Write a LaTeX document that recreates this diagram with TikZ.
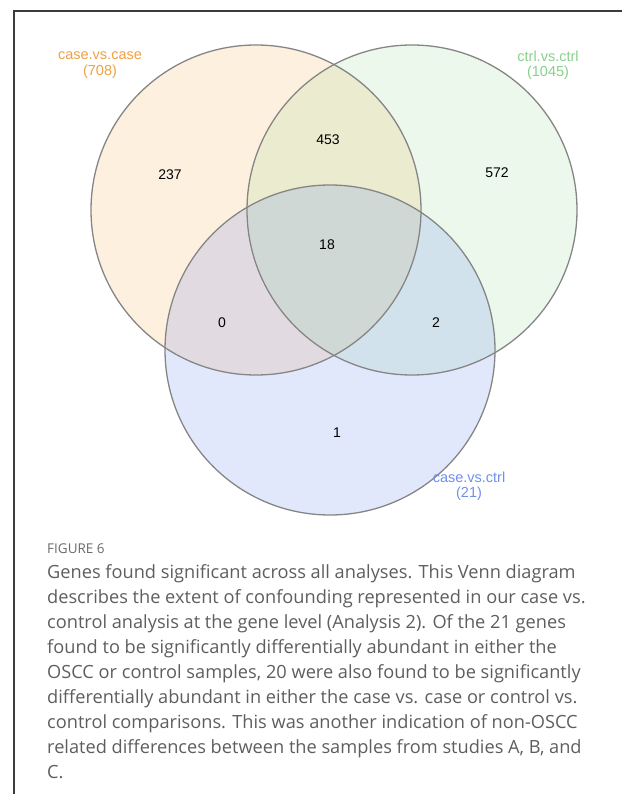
\documentclass[tikz,border=0pt]{standalone}
\usepackage{fontspec}
\setmainfont{Liberation Sans}
\newfontfamily\capfont{Open Sans}
\definecolor{frameC}{HTML}{3C3C3C}
\definecolor{ringC}{HTML}{858585}
\definecolor{orangeF}{HTML}{F5A032}
\definecolor{greenF}{HTML}{82D282}
\definecolor{blueF}{HTML}{6E8CF0}
\definecolor{orangeT}{HTML}{EFA043}
\definecolor{greenT}{HTML}{88D08A}
\definecolor{blueT}{HTML}{6F8FEF}
\definecolor{capC}{HTML}{5E5E5E}
\definecolor{figC}{HTML}{6A6A6A}
\tikzset{
  setlabel/.style={align=center, font=\fontsize{14.5}{15.5}\selectfont, inner sep=0pt},
  count/.style={font=\fontsize{14}{15}\selectfont, text=black, inner sep=0pt},
  ring/.style={circle, minimum size=330pt, inner sep=0pt, draw=ringC, line width=1.3pt},
}
\begin{document}
\begin{tikzpicture}[x=1pt,y=-1pt]
\useasboundingbox (0,0) rectangle (622,794);
\coordinate (fb) at (14,794);
\coordinate (fc) at (14,11);
\coordinate (fr) at (622,11);
\draw[frameC, line width=1.5pt] (fb) -- (fc) -- (fr);
% circle fills
\fill[orangeF, opacity=0.16] (256,210) circle (165);
\fill[greenF, opacity=0.16] (412,210) circle (165);
\fill[blueF, opacity=0.2] (330,350) circle (165);
% circle outlines
\node[ring] (A) at (256,210) {};
\node[ring] (B) at (412,210) {};
\node[ring] (C) at (330,350) {};
% set labels
\node[setlabel, text=orangeT] (la) at (100,65) {case.vs.case\\(708)};
\node[setlabel, text=greenT] (lb) at (548,65) {ctrl.vs.ctrl\\(1045)};
\node[setlabel, text=blueT] (lc) at (469,486) {case.vs.ctrl\\(21)};
% counts
\node[count] (n237) at (170,175) {237};
\node[count] (n453) at (328,140) {453};
\node[count] (n572) at (497,173) {572};
\node[count] (n18) at (327,245) {18};
\node[count] (n0) at (222,323) {0};
\node[count] (n2) at (436,323) {2};
\node[count] (n1) at (337,433) {1};
% caption
\node[anchor=base west, inner sep=0pt, text=figC, font=\capfont\fontsize{13.5}{14}\selectfont] (fig) at (47,553) {FIGURE 6};
\node[anchor=north west, inner sep=0pt, align=left, text=capC, font=\capfont\fontsize{18.2}{25}\selectfont] (cap) at (47,564) {Genes found significant across all analyses. This Venn diagram\\
describes the extent of confounding represented in our case vs.\\
control analysis at the gene level (Analysis 2). Of the 21 genes\\
found to be significantly differentially abundant in either the\\
OSCC or control samples, 20 were also found to be significantly\\
differentially abundant in either the case vs. case or control vs.\\
control comparisons. This was another indication of non-OSCC\\
related differences between the samples from studies A, B, and\\
C.};
\end{tikzpicture}
\end{document}
